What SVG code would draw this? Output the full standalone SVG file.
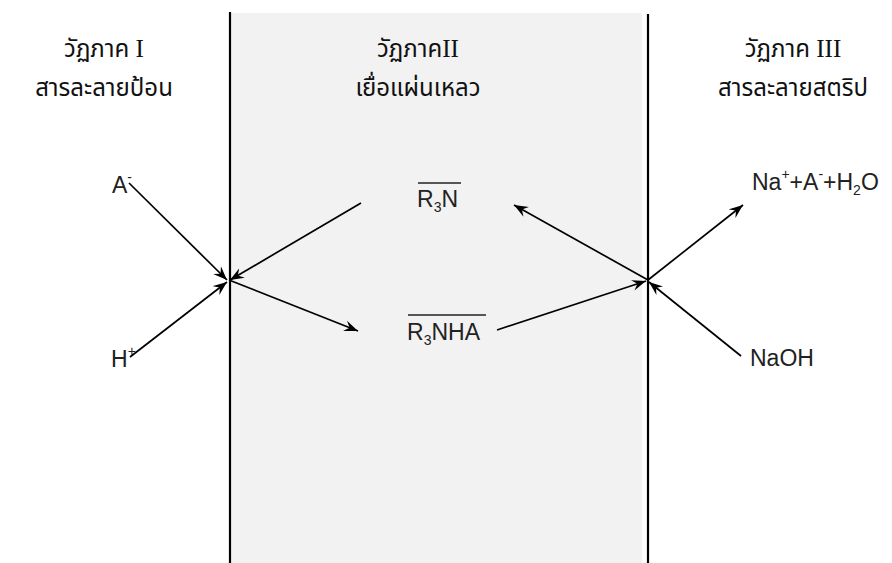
<svg xmlns="http://www.w3.org/2000/svg" width="892" height="563" viewBox="0 0 892 563">
<style>
.th{font-family:"Noto Sans Thai","Noto Sans Thai Looped","Noto Serif Thai",sans-serif;font-size:24px;fill:#111;text-anchor:middle}
.rn{font-family:"Liberation Serif","Times New Roman",serif;font-size:25px}
.ch{font-family:"Liberation Sans",Arial,sans-serif;font-size:23px;fill:#222}
.sub{font-size:14px}
.wall{stroke:#000;stroke-width:2.2;fill:none}
.cn{stroke:#000;stroke-width:1.7;fill:none;marker-end:url(#ah)}
.ol{stroke:#222;stroke-width:1.5}
</style>
<defs>
<marker id="ah" viewBox="-14 -6 16 12" markerWidth="16" markerHeight="12" refX="0" refY="0" orient="auto" markerUnits="userSpaceOnUse">
<path d="M0,0 L-14,-5.5 L-9,0 L-14,5.5 Z" fill="#000"/>
</marker>
</defs>
<rect width="892" height="563" fill="#fff"/>
<rect id="membrane" x="231" y="13" width="411" height="550" fill="#f2f2f2"/>
<g id="walls">
<line class="wall" x1="230" y1="12" x2="230" y2="563"/>
<line class="wall" x1="648" y1="14" x2="648" y2="563"/>
</g>
<g id="phase1">
<text class="th" x="104" y="57">วัฏภาค <tspan class="rn">I</tspan></text>
<text class="th" x="104" y="96">สารละลายป้อน</text>
</g>
<g id="phase2">
<text class="th" x="418" y="57">วัฏภาค<tspan class="rn">II</tspan></text>
<text class="th" x="418" y="96">เยื่อแผ่นเหลว</text>
</g>
<g id="phase3">
<text class="th" x="793" y="57">วัฏภาค <tspan class="rn">III</tspan></text>
<text class="th" x="793" y="96">สารละลายสตริป</text>
</g>
<g id="A">
<text class="ch" x="112" y="193">A<tspan class="sub" dy="-11">-</tspan></text>
</g>
<g id="H">
<text class="ch" x="111" y="367">H<tspan class="sub" dy="-11">+</tspan></text>
</g>
<g id="R3N">
<line class="ol" x1="418" y1="183" x2="461" y2="183"/>
<text class="ch" x="417" y="207">R<tspan class="sub" dy="5">3</tspan><tspan dy="-5">N</tspan></text>
</g>
<g id="R3NHA">
<line class="ol" x1="408" y1="315" x2="486" y2="315"/>
<text class="ch" x="407" y="340">R<tspan class="sub" dy="5">3</tspan><tspan dy="-5">NHA</tspan></text>
</g>
<g id="products">
<text class="ch" x="752" y="190">Na<tspan class="sub" dy="-11">+</tspan><tspan dy="11">+A</tspan><tspan class="sub" dy="-11">-</tspan><tspan dy="11">+H</tspan><tspan class="sub" dy="5">2</tspan><tspan dy="-5">O</tspan></text>
</g>
<g id="NaOH">
<text class="ch" x="750" y="366">NaOH</text>
</g>
<g id="connectors">
<line class="cn" x1="129" y1="183" x2="227" y2="280"/>
<line class="cn" x1="130" y1="357" x2="227" y2="282"/>
<line class="cn" x1="361" y1="203" x2="230" y2="280"/>
<line class="cn" x1="229" y1="280" x2="358" y2="331"/>
<line class="cn" x1="497" y1="330" x2="646" y2="281"/>
<line class="cn" x1="648" y1="280" x2="514" y2="205"/>
<line class="cn" x1="648" y1="280" x2="743" y2="205"/>
<line class="cn" x1="741" y1="356" x2="649" y2="282"/>
</g>
</svg>
